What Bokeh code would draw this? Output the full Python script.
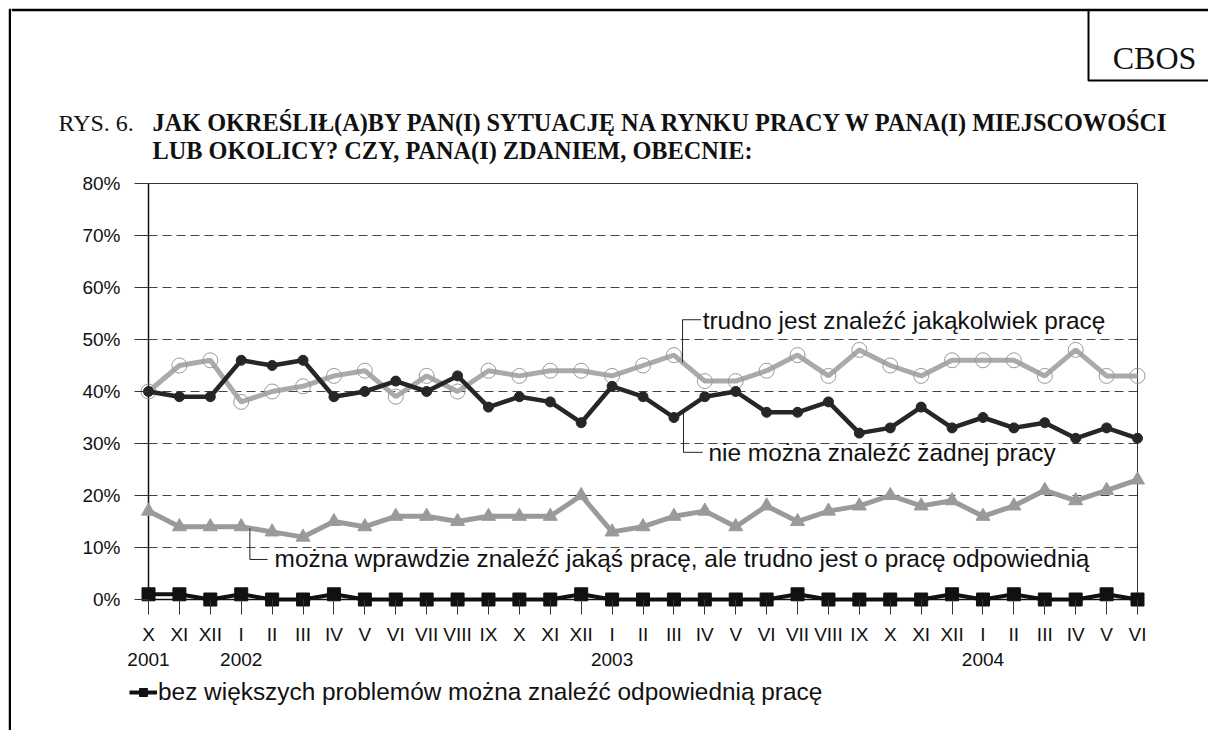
from bokeh.plotting import figure
from bokeh.layouts import row, column
from bokeh.models import (FixedTicker, PrintfTickFormatter, Range1d, Label,
                          Legend, LegendItem)
from bokeh.core.properties import value
from bokeh.embed import file_html
from bokeh.resources import INLINE

# ---------------- data ----------------
months = ["X", "XI", "XII", "I", "II", "III", "IV", "V", "VI", "VII", "VIII", "IX",
          "X", "XI", "XII", "I", "II", "III", "IV", "V", "VI", "VII", "VIII", "IX",
          "X", "XI", "XII", "I", "II", "III", "IV", "V", "VI"]
year_at = {0: "2001", 3: "2002", 15: "2003", 27: "2004"}

trudno = [40, 45, 46, 38, 40, 41, 43, 44, 39, 43, 40, 44, 43, 44, 44, 43, 45,
          47, 42, 42, 44, 47, 43, 48, 45, 43, 46, 46, 46, 43, 48, 43, 43]
nie_mozna = [40, 39, 39, 46, 45, 46, 39, 40, 42, 40, 43, 37, 39, 38, 34, 41, 39,
             35, 39, 40, 36, 36, 38, 32, 33, 37, 33, 35, 33, 34, 31, 33, 31]
wprawdzie = [17, 14, 14, 14, 13, 12, 15, 14, 16, 16, 15, 16, 16, 16, 20, 13, 14,
             16, 17, 14, 18, 15, 17, 18, 20, 18, 19, 16, 18, 21, 19, 21, 23]
bez_problemow = [1, 1, 0, 1, 0, 0, 1, 0, 0, 0, 0, 0, 0, 0, 1, 0, 0,
                 0, 0, 0, 0, 1, 0, 0, 0, 0, 1, 0, 1, 0, 0, 1, 0]
y_ticks = [0, 10, 20, 30, 40, 50, 60, 70, 80]

title_prefix = "RYS. 6."
title_line1 = "JAK OKREŚLIŁ(A)BY PAN(I) SYTUACJĘ NA RYNKU PRACY W PANA(I) MIEJSCOWOŚCI"
title_line2 = "LUB OKOLICY? CZY, PANA(I) ZDANIEM, OBECNIE:"
brand = "CBOS"
lbl_trudno = "trudno jest znaleźć jakąkolwiek pracę"
lbl_nie = "nie można znaleźć żadnej pracy"
lbl_wpr = "można wprawdzie znaleźć jakąś pracę, ale trudno jest o pracę odpowiednią"
lbl_bez = "bez większych problemów można znaleźć odpowiednią pracę"

x = list(range(len(months)))
n_last = len(months) - 1

SANS = "Liberation Sans"
SERIF = "Liberation Serif"
INK = "#111111"

# ---------------- page geometry (page px) ----------------
TOTAL_W, TOTAL_H = 1208, 730
STRIP_W = 11
HEADER_H = 168
MAIN_BOTTOM = 676
FRAME_L, FRAME_R, FRAME_T, FRAME_B = 134, 1151, 178, 614  # main frame incl. pad
PX_PER_IDX = (1137 - 148) / 32.0
PX_PER_PCT = (599 - 183) / 80.0


def no_align(f):
    try:
        f.frame_align = False
    except Exception:
        pass
    return f


def canvas_fig(x0, y0, w, h):
    f = figure(width=w, height=h, x_range=Range1d(x0, x0 + w),
               y_range=Range1d(y0 + h, y0), output_backend="svg",
               toolbar_location=None, x_axis_location=None, y_axis_location=None,
               min_border=0)
    f.outline_line_color = None
    f.grid.grid_line_color = None
    f.background_fill_color = "white"
    f.border_fill_color = "white"
    return no_align(f)


# ---------------- left page border strip ----------------
strip = canvas_fig(0, 0, STRIP_W, TOTAL_H)
strip.line([9.5, 9.5], [9, TOTAL_H], line_color="black", line_width=2.5)
strip.line([8.5, STRIP_W], [9.5, 9.5], line_color="black", line_width=2.5)

# ---------------- header ----------------
header = canvas_fig(STRIP_W, 0, TOTAL_W - STRIP_W, HEADER_H)
header.line([STRIP_W, TOTAL_W], [9.5, 9.5], line_color="black", line_width=2.5)
header.line([1088, 1088, TOTAL_W], [9, 80, 80], line_color="black", line_width=2)
header.text(x=[1154], y=[57], text=[brand], text_font=value(SERIF),
            text_font_size="32px", text_color=INK, text_align="center",
            text_baseline="alphabetic")
header.text(x=[58], y=[122], text=[title_prefix], text_font=value(SERIF),
            text_font_size="24px", text_color=INK, text_baseline="alphabetic")
header.text(x=[152, 152], y=[122, 150], text=[title_line1, title_line2],
            text_font=value(SERIF), text_font_size="24.3px", text_font_style="bold",
            text_color=INK, text_baseline="alphabetic")

# ---------------- main chart ----------------
main_w = TOTAL_W - STRIP_W
main_h = MAIN_BOTTOM - HEADER_H
pad_l = (148 - FRAME_L) / PX_PER_IDX
pad_r = (FRAME_R - 1137) / PX_PER_IDX
p = figure(width=main_w, height=main_h, output_backend="svg", toolbar_location=None,
           x_range=Range1d(-pad_l, n_last + pad_r),
           y_range=Range1d(-(FRAME_B - 599) / PX_PER_PCT, 80 + (183 - FRAME_T) / PX_PER_PCT),
           min_border_left=FRAME_L - STRIP_W, min_border_right=TOTAL_W - FRAME_R,
           min_border_top=FRAME_T - HEADER_H, min_border_bottom=MAIN_BOTTOM - FRAME_B)
no_align(p)
p.background_fill_color = "white"
p.border_fill_color = "white"
p.outline_line_color = None
p.xgrid.grid_line_color = None
p.ygrid.grid_line_color = None

p.xaxis.ticker = FixedTicker(ticks=x)
p.xaxis.major_label_overrides = {
    i: (m + "\n" + year_at[i]) if i in year_at else m for i, m in enumerate(months)}
p.yaxis.ticker = FixedTicker(ticks=y_ticks)
p.yaxis.formatter = PrintfTickFormatter(format="%d%%")
for ax in (p.xaxis[0], p.yaxis[0]):
    ax.axis_line_color = None
    ax.major_tick_line_color = "#333333"
    ax.major_tick_line_width = 1
    ax.major_tick_out = 0
    ax.minor_tick_line_color = None
    ax.major_label_text_font = SANS
    ax.major_label_text_font_size = "19px"
    ax.major_label_text_color = INK
p.xaxis.major_tick_in = FRAME_B - 599
p.yaxis.major_tick_in = 148 - FRAME_L
p.xaxis.major_label_standoff = 9
p.yaxis.major_label_standoff = 14

# dashed gridlines inside the chart box
inner = y_ticks[1:-1]
p.segment(x0=[0] * len(inner), x1=[n_last] * len(inner), y0=inner, y1=inner,
          line_color="#444444", line_width=1, line_dash="9 5")
# chart box: top/right thin, left/bottom axes
p.line([0, n_last, n_last], [y_ticks[-1], y_ticks[-1], 0], line_color="#333333", line_width=1)
p.line([0, 0, n_last], [y_ticks[-1], 0, 0], line_color="#111111", line_width=1.5)

# series
p.line(x, trudno, line_color="#aaaaaa", line_width=5)
p.scatter(x, trudno, marker="circle", size=15, fill_color=None,
          line_color="#9a9a9a", line_width=1)

p.line(x, nie_mozna, line_color="#262626", line_width=4.5)
p.scatter(x, nie_mozna, marker="circle", size=10, fill_color="#262626",
          line_color="#262626")

p.line(x, wprawdzie, line_color="#9a9a9a", line_width=5)
p.scatter(x, wprawdzie, marker="triangle", size=14, fill_color="#9a9a9a",
          line_color="#9a9a9a")

p.line(x, bez_problemow, line_color="#111111", line_width=4)
p.scatter(x, bez_problemow, marker="square", size=13, fill_color="#111111",
          line_color="#111111")

# leader lines + series labels
p.line([17.28, 17.28, 17.88], [45.6, 53.8, 53.8], line_color="#222222", line_width=1)
p.line([17.31, 17.31, 17.93], [36.2, 28.3, 28.3], line_color="#222222", line_width=1)
p.line([3.28, 3.28, 3.85], [13.7, 7.7, 7.7], line_color="#222222", line_width=1)
for tx, ty, t in [(17.93, 53.6, lbl_trudno), (18.12, 28.3, lbl_nie), (4.08, 7.8, lbl_wpr)]:
    p.add_layout(Label(x=tx, y=ty, text=t, text_font=SANS, text_font_size="24.4px",
                       text_color=INK, text_baseline="middle", text_align="left"))

# ---------------- footer with legend ----------------
footer_h = TOTAL_H - MAIN_BOTTOM
footer = canvas_fig(STRIP_W, MAIN_BOTTOM, TOTAL_W - STRIP_W, footer_h)
# legend proxies: same series, lying outside this strip's visible range
lg_line = footer.line(x, bez_problemow, line_color="#111111", line_width=4)
lg_mark = footer.scatter(x, bez_problemow, marker="square", size=13,
                         fill_color="#111111", line_color="#111111")
legend = Legend(items=[LegendItem(label=lbl_bez, renderers=[lg_line, lg_mark])],
                location=(129 - STRIP_W, TOTAL_H - 706))
legend.background_fill_color = None
legend.border_line_color = None
legend.padding = 0
legend.margin = 0
legend.spacing = 0
legend.glyph_width = 28
legend.glyph_height = 20
legend.label_standoff = 1
legend.label_text_font = SANS
legend.label_text_font_size = "24.4px"
legend.label_text_color = INK
footer.add_layout(legend)

layout = row(strip, column(header, p, footer))
open("out.html", "w").write(file_html(layout, INLINE))
